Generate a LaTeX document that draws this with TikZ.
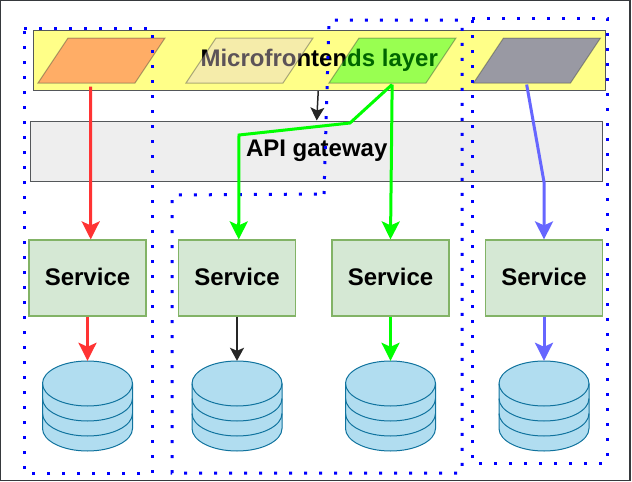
\documentclass[tikz,border=0pt]{standalone}
\usepackage{fontspec}
\setmainfont{Liberation Sans}
\usetikzlibrary{arrows.meta,positioning,shapes.geometric,fit,calc}
\definecolor{edgegray}{HTML}{36393D}
\definecolor{bandyellow}{HTML}{FFFF88}
\definecolor{gatefill}{HTML}{EEEEEE}
\definecolor{svcfill}{HTML}{D5E8D4}
\definecolor{svcedge}{HTML}{82B366}
\definecolor{dbfill}{HTML}{B1DDF0}
\definecolor{dbedge}{HTML}{10739E}
\definecolor{arrred}{HTML}{FF3333}
\definecolor{arrgreen}{HTML}{00FF00}
\definecolor{arrblue}{HTML}{6666FF}
\definecolor{pgbeige}{HTML}{E6D0DE}
\definecolor{pgdark}{HTML}{0000CC}
\begin{document}
\begin{tikzpicture}[x=1pt,y=-1pt,font=\fontsize{24}{28}\selectfont\bfseries,
band/.style={draw=edgegray!85,line width=1pt,minimum width=#1,minimum height=60pt,inner sep=0pt},
pgram/.style={draw=edgegray,line width=1pt,fill=#1,opacity=0.4,minimum width=97pt,minimum height=45pt,inner sep=0pt,xslant=0.667,transform shape},
service/.style={draw=svcedge,line width=1.2pt,fill=svcfill,minimum width=117pt,minimum height=76pt,inner sep=0pt,text depth=3pt},
dbbox/.style={minimum width=90pt,minimum height=90pt,inner sep=0pt},
dbline/.style={draw=dbedge,line width=1pt,fill=dbfill},
dots/.style={draw=blue,line width=3pt,dash pattern=on 3pt off 12pt},
arr/.style={-{Stealth[length=18pt,width=18pt,inset=4pt]},line width=3pt,#1},
thin arr/.style={-{Stealth[length=13pt,width=14pt,inset=3pt]},line width=1.5pt,black!85}]
\useasboundingbox (0,0) rectangle (632,482);
\node[draw=edgegray,line width=1.5pt,minimum width=629.5pt,minimum height=480pt,inner sep=0pt] (frame) at (315.2,240.5) {};
\node[band=571.5pt,fill=bandyellow] (mfe) at (319.25,60.5) {Microfrontends layer};
\node[band=572pt,fill=gatefill] (gateway) at (316.7,151) {API gateway};
\node[pgram=arrred] (pgred) at (101.5,60.5) {};
\node[pgram=pgbeige] (pgbeige) at (249.5,60.5) {};
\node[pgram=arrgreen] (pggreen) at (392.5,60.5) {};
\node[pgram=pgdark] (pgblue) at (537,60.5) {};
\node[service] (svca) at (87.5,278) {Service};
\node[service] (svcb) at (237,278) {Service};
\node[service] (svcc) at (390.5,278) {Service};
\node[service] (svcd) at (544,278) {Service};
\foreach \i/\xc in {a/87.5,b/237,c/390.5,d/544}{
\node[dbbox] (db\i) at (\xc,406) {};
\draw[dbline] (\xc-45,383.5)--(\xc-45,428.5) arc[start angle=180,end angle=360,x radius=45pt,y radius=22.5pt]--(\xc+45,383.5) arc[start angle=0,end angle=180,x radius=45pt,y radius=22.5pt]--cycle;
\foreach \yc in {398.5,413.5}{
\draw[draw=dbedge,line width=1pt] (\xc-45,\yc) arc[start angle=180,end angle=360,x radius=45pt,y radius=22.5pt];
}
\draw[draw=dbedge,line width=1pt] (\xc-45,383.5) arc[start angle=180,end angle=360,x radius=45pt,y radius=22.5pt];
}
\draw[dots] (24,28)--(152,28)--(152,473)--(24,473)--cycle;
\draw[dots] (324,194)--(329,20)--(462,20)--(462,473)--(172,473)--(172,195)--cycle;
\draw[dots] (472,18)--(607,18)--(607,463)--(472,463)--cycle;
\coordinate (greenout) at ([xshift=15pt,yshift=-1pt]pggreen.south);
\coordinate (greenknee) at (350,123);
\coordinate (greenbend) at (239,135);
\coordinate (blueknee) at (544,182);
\draw[arr=arrred] ([xshift=4.5pt,yshift=-3pt]pgred.south)--([xshift=3.2pt]svca.north);
\draw[thin arr] ([xshift=-1pt]mfe.south)--(gateway.north);
\draw[arr=arrgreen] (greenout)--(greenknee)--(greenbend)--([xshift=1.7pt]svcb.north);
\draw[arr=arrgreen] (greenout)--(svcc.north);
\draw[arr=arrblue] ([xshift=5pt,yshift=-1pt]pgblue.south)--(blueknee)--(svcd.north);
\draw[arr=arrred] (svca.south)--(dba.north);
\draw[thin arr] (svcb.south)--(dbb.north);
\draw[arr=arrgreen] (svcc.south)--(dbc.north);
\draw[arr=arrblue] (svcd.south)--(dbd.north);
\end{tikzpicture}
\end{document}
